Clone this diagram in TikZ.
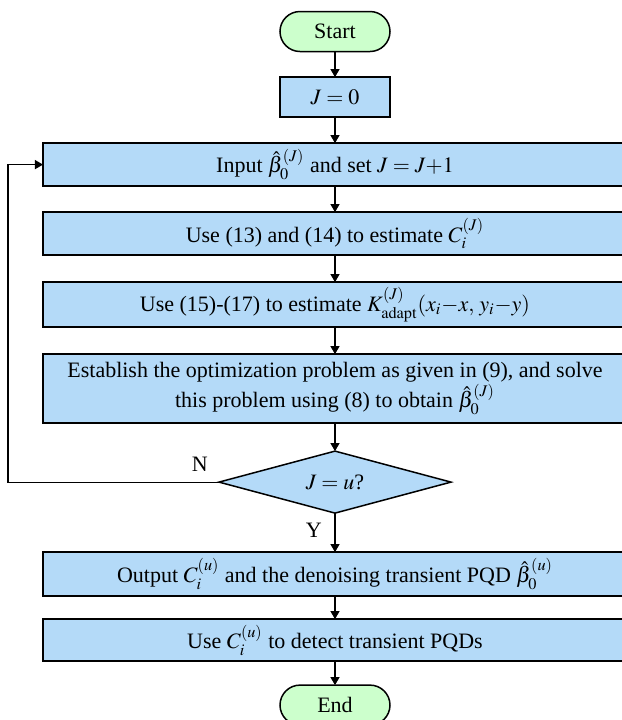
\documentclass[tikz,border=0pt]{standalone}
\usepackage{mathptmx}
\usepackage[no-math]{fontspec}
\setmainfont{Liberation Serif}
\usetikzlibrary{arrows.meta,positioning,shapes.geometric}
\definecolor{boxblue}{RGB}{180,218,248}
\definecolor{termgreen}{RGB}{204,255,204}

\begin{document}
\begin{tikzpicture}[->,>={Triangle[length=4pt,width=4.5pt]},semithick,node distance=13pt,
    every node/.style={font=\fontsize{11}{13}\selectfont},
    proc node/.style={rectangle,fill=boxblue,draw,align=center,line width=0.75pt,
      outer sep=0pt,inner sep=2pt,minimum width=292pt,minimum height=21.5pt},
    term node/.style={rectangle,rounded corners=10pt,fill=termgreen,draw,line width=0.75pt,
      outer sep=0pt,inner sep=2pt,minimum width=55pt,minimum height=20pt},
    dec node/.style={diamond,aspect=3.75,fill=boxblue,draw,line width=0.75pt,outer sep=0pt,
      inner sep=0pt,minimum width=116pt,minimum height=31pt}]

    \clip[-] (0,0) rectangle (311pt,-360pt);

    \node[term node] (start) at (167.5pt,-15.75pt) {Start};
    \node[proc node,minimum width=55pt,minimum height=20pt] (init) [below=12.8pt of start] {$J=0$};
    \node[proc node] (input) [below=of init] {Input $\hat{\beta}_0^{(J)}$ and set $J=J{+}1$};
    \node[proc node] (estC) [below=of input] {Use (13) and (14) to estimate $C_i^{(J)}$};
    \node[proc node,minimum height=22.5pt] (estK) [below=13.5pt of estC]
      {Use (15)-(17) to estimate $K_{\mathrm{adapt}}^{(J)}(x_i{-}x,\, y_i{-}y)$};
    \node[proc node,minimum height=34.5pt] (optim) [below=13.5pt of estK]
      {Establish the optimization problem as given in (9), and solve\\
       this problem using (8) to obtain $\hat{\beta}_0^{(J)}$};
    \node[dec node] (check) [below=14pt of optim] {$J=u$?};
    \node[proc node,minimum height=22pt] (output) [below=19.5pt of check]
      {Output $C_i^{(u)}$ and the denoising transient PQD $\hat{\beta}_0^{(u)}$};
    \node[proc node,minimum height=21pt] (detect) [below=11.5pt of output]
      {Use $C_i^{(u)}$ to detect transient PQDs};
    \node[term node] (stop) [below=12pt of detect] {End};
    \coordinate (loop) at ([xshift=-105.5pt]check.west);

    \path
    (start) edge (init)
    (init) edge (input)
    (input) edge (estC)
    (estC) edge (estK)
    (estK) edge (optim)
    (optim) edge (check)
    (check) edge node[left=3pt,pos=0.45] {Y} (output)
    (output) edge (detect)
    (detect) edge (stop);
    \draw (check.west) node[above left,xshift=-2pt,yshift=1.5pt] {N} -- (loop) |- (input.west);
  \end{tikzpicture}
\end{document}
